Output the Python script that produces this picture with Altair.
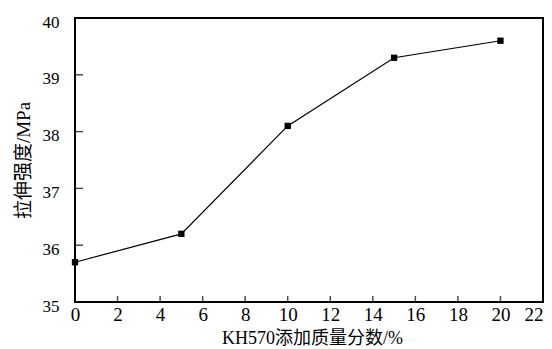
import altair as alt
import pandas as pd

# data
kh570 = [0, 5, 10, 15, 20]
strength = [35.7, 36.2, 38.1, 39.3, 39.6]
x_ticks = [2, 4, 6, 8, 10, 12, 14, 16, 18, 20]
y_ticks = [36, 37, 38, 39]
x_tick_labels = [0, 2, 4, 6, 8, 10, 12, 14, 16, 18, 20, 22]
y_tick_labels = [35, 36, 37, 38, 39, 40]

FONT = "'Liberation Serif', 'Noto Sans CJK SC', serif"

df = pd.DataFrame({"x": kh570, "y": strength})
xt = pd.DataFrame({"x": x_ticks, "y": [35] * len(x_ticks)})
yt = pd.DataFrame({"x": [0] * len(y_ticks), "y": y_ticks})

xscale = alt.Scale(domain=[0, 22], nice=False, zero=False)
yscale = alt.Scale(domain=[35, 40], nice=False, zero=False)

xaxis = alt.Axis(
    values=x_tick_labels, format="d", title="KH570添加质量分数/%", grid=False, domain=False,
    ticks=False, tickSize=0, labelFontSize=19, labelFont=FONT, labelColor="black",
    labelPadding=3, labelFlush=False,
    labelAlign={"condition": {"test": "datum.value >= 22", "value": "right"}, "value": "center"},
    titleFont=FONT, titleFontSize=18, titleFontWeight="normal", titleColor="black",
    titleX=237, titleY=36, titleBaseline="middle", titleAnchor="middle",
)
yaxis = alt.Axis(
    values=y_tick_labels, format="d", title="拉伸强度/MPa", grid=False, domain=False,
    ticks=False, tickSize=0, labelFontSize=17, labelFont=FONT, labelColor="black",
    labelPadding=16, labelOffset=4,
    titleFont=FONT, titleFontSize=19, titleFontWeight="normal", titleColor="black",
    titleX=-52, titleY=142, titleAngle=-90, titleBaseline="middle", titleAlign="center",
)

line = alt.Chart(df).mark_line(color="black", strokeWidth=1.2, interpolate="linear").encode(
    x=alt.X("x:Q", scale=xscale, axis=xaxis),
    y=alt.Y("y:Q", scale=yscale, axis=yaxis),
)
pts = alt.Chart(df).mark_square(color="black", size=40, opacity=1).encode(
    x=alt.X("x:Q", scale=xscale), y=alt.Y("y:Q", scale=yscale)
)
xticks = alt.Chart(xt).mark_tick(color="black", orient="vertical", size=12, thickness=1.5, clip=True).encode(
    x=alt.X("x:Q", scale=xscale), y=alt.Y("y:Q", scale=yscale)
)
yticks = alt.Chart(yt).mark_tick(color="black", orient="horizontal", size=16, thickness=1.5, clip=True).encode(
    x=alt.X("x:Q", scale=xscale), y=alt.Y("y:Q", scale=yscale)
)

chart = (
    alt.layer(line, pts, xticks, yticks)
    .properties(
        width=468, height=284,
        autosize=alt.AutoSizeParams(type="none"),
        padding={"left": 67, "top": 10, "right": 1, "bottom": 46},
        background="white",
    )
    .configure_view(stroke="black", strokeWidth=2)
)

chart.save("out.html", embed_options={"renderer": "svg", "actions": False})
